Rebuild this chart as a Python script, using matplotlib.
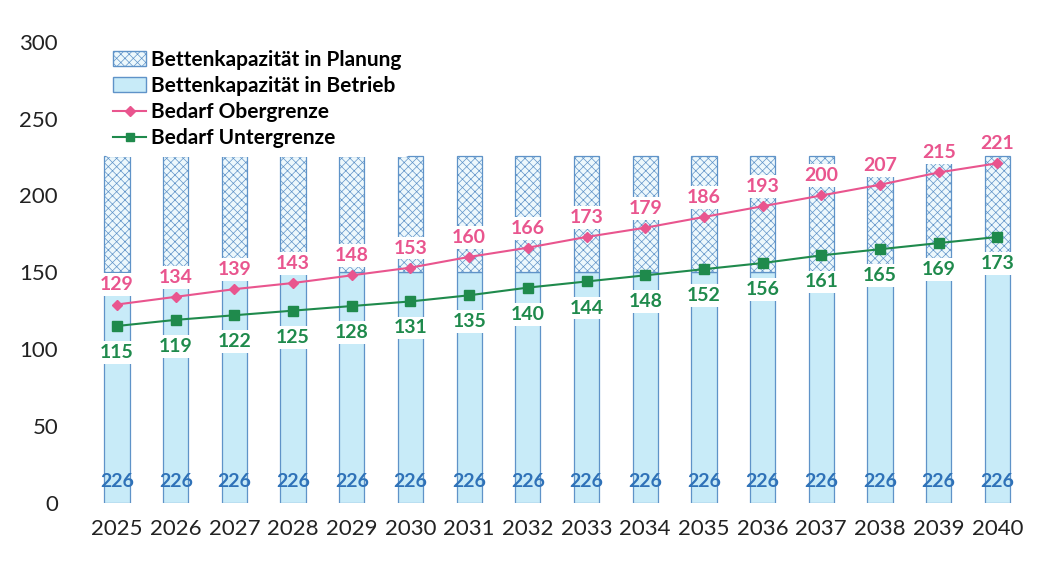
import matplotlib.pyplot as plt
from matplotlib.patches import Patch
from matplotlib.lines import Line2D
import numpy as np

plt.rcParams['font.family'] = ['Lato', 'DejaVu Sans']
plt.rcParams['hatch.color'] = '#cbe7f4'
plt.rcParams['hatch.linewidth'] = 0.5

years = ['2025', '2026', '2027', '2028', '2029', '2030', '2031', '2032',
         '2033', '2034', '2035', '2036', '2037', '2038', '2039', '2040']
betrieb = [150] * 16
planung = [76] * 16
kapazitaet = [226] * 16
obergrenze = [129, 134, 139, 143, 148, 153, 160, 166, 173, 179, 186, 193, 200, 207, 215, 221]
untergrenze = [115, 119, 122, 125, 128, 131, 135, 140, 144, 148, 152, 156, 161, 165, 169, 173]

pink = '#e9558e'
green = '#1f8a4c'
blue_txt = '#2f72b8'
edge = '#5f93c8'

x = np.arange(len(years))
fig, ax = plt.subplots(figsize=(10.53, 5.83), dpi=100)
fig.subplots_adjust(left=0.071, right=0.975, top=0.928, bottom=0.138)

w = 0.43
ax.bar(x, betrieb, w, color='#c8ebf8', edgecolor=edge, linewidth=0.9, zorder=2)
ax.bar(x, planung, w, bottom=betrieb, color='#edf8fc', edgecolor=edge,
       linewidth=0.9, hatch='xxxx', zorder=2)

ax.plot(x, obergrenze, color=pink, lw=1.5, marker='D', ms=5, zorder=4)
ax.plot(x, untergrenze, color=green, lw=1.5, marker='s', ms=6.5, zorder=4)

for i in range(len(years)):
    ax.annotate(str(obergrenze[i]), (x[i], obergrenze[i]), xytext=(0, 8),
                textcoords='offset points', ha='center', va='bottom',
                color=pink, fontsize=14, fontweight='bold', zorder=3,
                bbox=dict(boxstyle='square,pad=0.15', fc='white', ec='none'))
    ax.annotate(str(untergrenze[i]), (x[i], untergrenze[i]), xytext=(0, -13),
                textcoords='offset points', ha='center', va='top',
                color=green, fontsize=14, fontweight='bold', zorder=3,
                bbox=dict(boxstyle='square,pad=0.15', fc='white', ec='none'))
    ax.text(x[i], 14, str(kapazitaet[i]), ha='center', va='center',
            color=blue_txt, fontsize=14, fontweight='bold', zorder=3)

ax.set_xlim(-0.72, 15.5)
ax.set_ylim(0, 300)
ax.set_yticks(range(0, 301, 50))
ax.set_xticks(x)
ax.set_xticklabels(years)
ax.tick_params(length=0, labelsize=16, colors='#222222', pad=12)
ax.tick_params(axis='y', pad=12)
for s in ax.spines.values():
    s.set_visible(False)

handles = [
    Patch(facecolor='#edf8fc', edgecolor=edge, hatch='xxxx'),
    Patch(facecolor='#c8ebf8', edgecolor=edge),
    Line2D([], [], color=pink, marker='D', ms=5, lw=1.5),
    Line2D([], [], color=green, marker='s', ms=6, lw=1.5),
]
labels = ['Bettenkapazität in Planung', 'Bettenkapazität in Betrieb',
          'Bedarf Obergrenze', 'Bedarf Untergrenze']
leg = ax.legend(handles, labels, loc='upper left', bbox_to_anchor=(0.025, 1.015),
                frameon=True, framealpha=1, edgecolor='none',
                prop={'weight': 'bold', 'size': 15}, handlelength=1.6,
                handletextpad=0.2, labelspacing=0.3, borderaxespad=0.3)
leg.set_zorder(5)

plt.savefig('out.png')
